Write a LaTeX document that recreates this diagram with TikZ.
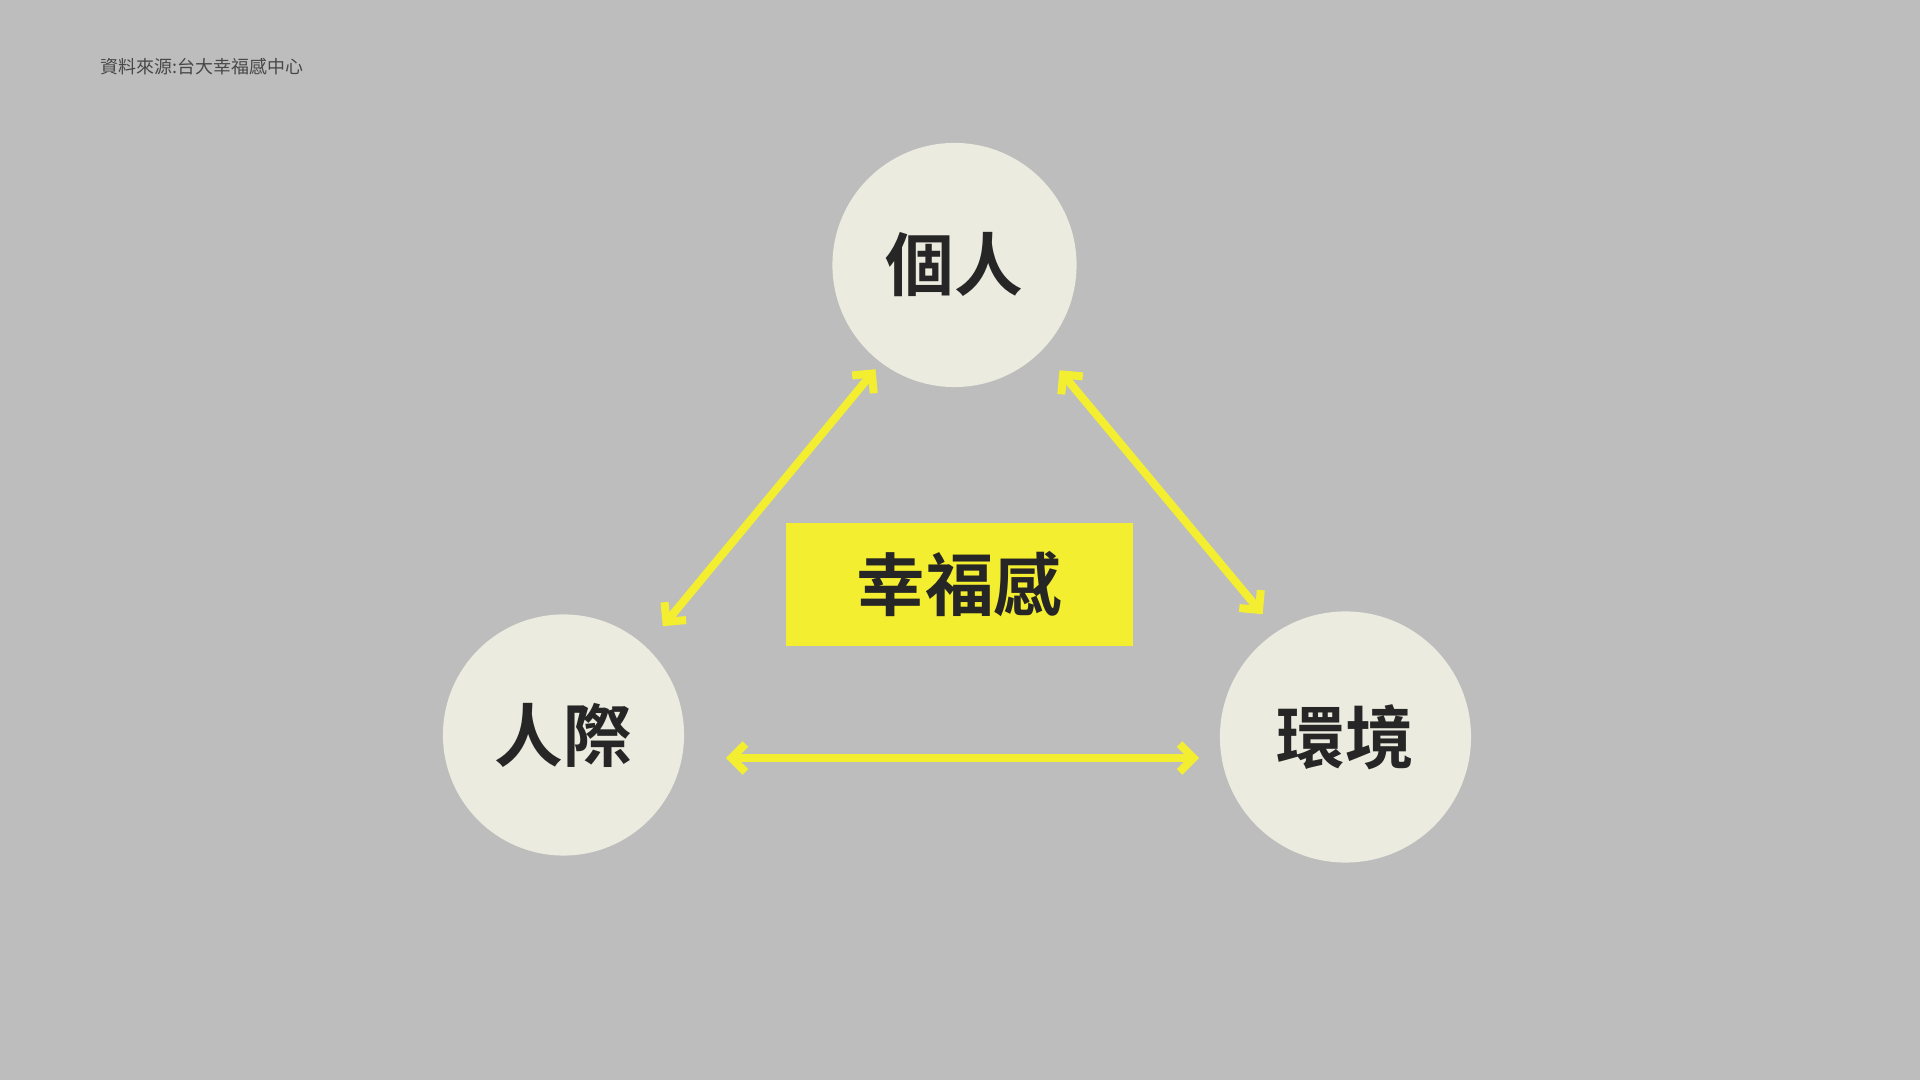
\documentclass[tikz,border=0pt]{standalone}
\usepackage{fontspec}
\newfontfamily\cjk[BoldFont={Noto Sans CJK TC Bold}]{Noto Sans CJK TC}
\usetikzlibrary{arrows.meta}
\definecolor{bggray}{HTML}{BDBDBD}
\definecolor{paper}{HTML}{EBEBDF}
\definecolor{hiyellow}{HTML}{F4EE30}
\definecolor{ink}{HTML}{262626}
\definecolor{srcgray}{HTML}{474747}

\begin{document}
\begin{tikzpicture}[x=0.01cm,y=-0.01cm,>={Straight Barb[length=0.14cm,width=0.28cm]},
	circ node/.style={circle,fill=paper,inner sep=0pt,text=ink,
		font=\cjk\bfseries\fontsize{19.5}{20}\selectfont},
	link/.style={<->,draw=hiyellow,line width=0.08cm}]
	
	\fill[bggray] (0,0) rectangle (1920,1080);
	\useasboundingbox (0,0) rectangle (1920,1080);
	
	\node[anchor=west,inner sep=0pt,text=srcgray,font=\cjk\fontsize{5.1}{6}\selectfont]
	(src) at (100,67) {資料來源:台大幸福感中心};
	
	\node[circ node,minimum size=2.44cm] (geren) at (954.5,265) {個人};
	\node[circ node,minimum size=2.41cm] (renji) at (563.5,735) {人際};
	\node[circ node,minimum size=2.51cm] (huanjing) at (1345.5,737) {環境};
	\node[fill=hiyellow,inner sep=0pt,minimum width=3.47cm,minimum height=1.23cm,
	text=ink,font=\cjk\bfseries\fontsize{19.5}{20}\selectfont] (xingfu) at (959.5,584.5) {幸福感};
	
	\path
	(renji.47) edge [link,shorten <=0.26cm,shorten >=0.08cm] (geren.233)
	(geren.-44) edge [link,shorten <=0.26cm,shorten >=0.22cm] (huanjing.123)
	([shift={(41,23)}]renji.east) edge [link] ([shift={(-20,21)}]huanjing.west);
\end{tikzpicture}
\end{document}
